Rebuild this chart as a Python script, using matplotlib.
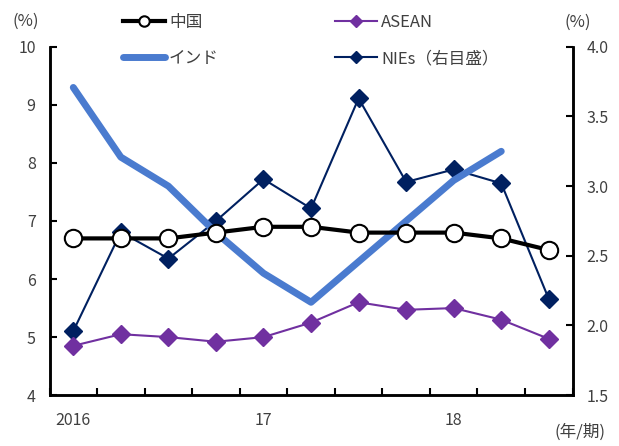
import numpy as np
import matplotlib
matplotlib.use("Agg")
import matplotlib.pyplot as plt

plt.rcParams['font.family'] = ['Noto Sans CJK JP', 'DejaVu Sans']

# quarterly, 2016Q1 - 2018Q3
quarters = ["2016", "", "", "", "17", "", "", "", "18", "", ""]
china = [6.7, 6.7, 6.7, 6.8, 6.9, 6.9, 6.8, 6.8, 6.8, 6.7, 6.5]
asean = [4.85, 5.05, 5.0, 4.92, 5.0, 5.25, 5.6, 5.47, 5.5, 5.3, 4.97]
india = [9.3, 8.1, 7.6, 6.8, 6.1, 5.6, 6.3, 7.0, 7.7, 8.2]
nies = [1.96, 2.67, 2.48, 2.75, 3.05, 2.84, 3.63, 3.03, 3.12, 3.02, 2.19]

c_china = "black"
c_asean = "#7030A0"
c_india = "#4A7BCF"
c_nies = "#002060"
c_text = "#404040"

fig = plt.figure(figsize=(6.19, 4.46), dpi=100)
ax = fig.add_axes([0.080, 0.114, 0.845, 0.781])
ax2 = ax.twinx()

x = np.arange(len(quarters))

l_india, = ax.plot(x[:len(india)], india, color=c_india, lw=5, solid_capstyle="round",
                   label="インド", zorder=2)
l_asean, = ax.plot(x, asean, color=c_asean, lw=1.5, marker="D", ms=9.5,
                   label="ASEAN", zorder=3)
l_china, = ax.plot(x, china, color=c_china, lw=3, marker="o", ms=12.5,
                   mfc="white", mec="black", mew=1.5, label="中国", zorder=4)
l_nies, = ax2.plot(x, nies, color=c_nies, lw=1.5, marker="D", ms=9.5,
                   label="NIEs（右目盛）", zorder=3)

ax.set_xlim(-0.5, len(quarters) - 0.5)
ax.set_ylim(4, 10)
ax2.set_ylim(1.5, 4.0)
ax.set_yticks(range(4, 11))
ax2.set_yticks(np.arange(1.5, 4.01, 0.5))
ax2.set_yticklabels([f"{v:.1f}" for v in np.arange(1.5, 4.01, 0.5)])

# category boundaries as ticks, labels centred under the quarter
ax.set_xticks(np.arange(-0.5, len(quarters), 1.0))
ax.set_xticklabels([])
ax.set_xticks(x, minor=True)
ax.set_xticklabels(quarters, minor=True)

for a in (ax, ax2):
    a.spines["top"].set_visible(False)
    for s in ("left", "right", "bottom"):
        a.spines[s].set_linewidth(1.8)
    a.tick_params(which="both", direction="in", length=5, width=1.5,
                  labelsize=11.5, labelcolor=c_text)
ax.tick_params(axis="x", which="minor", length=0, pad=12)
ax.tick_params(axis="y", pad=10)
ax2.tick_params(axis="y", pad=10)

ax.set_zorder(ax2.get_zorder() + 1)
ax.patch.set_visible(False)

fig.text(0.02, 0.953, "(%)", fontsize=12, color=c_text, va="center")
fig.text(0.912, 0.95, "(%)", fontsize=12, color=c_text, va="center")
fig.text(0.978, 0.03, "(年/期)", fontsize=12, color=c_text, ha="right", va="center")

fig.legend(handles=[l_china, l_india, l_asean, l_nies], ncol=2,
           loc="upper left", bbox_to_anchor=(0.18, 0.995), frameon=False,
           fontsize=12, handlelength=2.5, handletextpad=0.25, markerscale=0.6,
           columnspacing=7.0, labelspacing=1.15, borderaxespad=0.3,
           labelcolor=c_text)

fig.savefig("out.png", dpi=100)
